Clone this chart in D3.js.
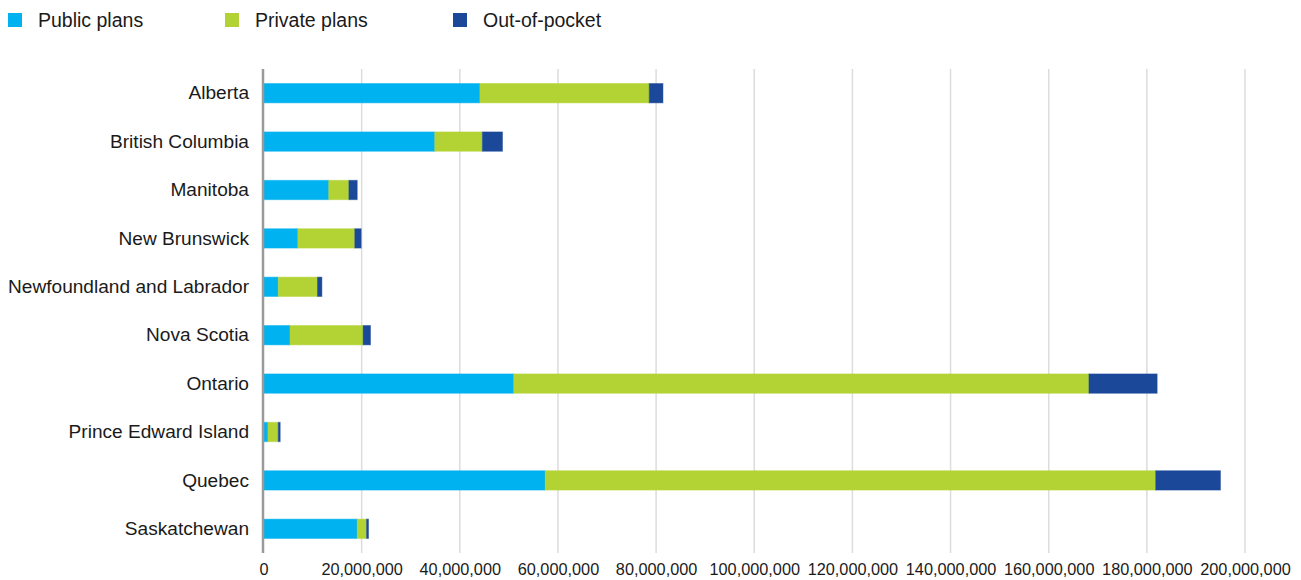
<!DOCTYPE html>
<html>
<head>
<meta charset="utf-8">
<script src="https://cdn.jsdelivr.net/npm/d3@7"></script>
<style>
  html, body { margin: 0; padding: 0; background: #fff; }
  svg { display: block; font-family: "Liberation Sans", Arial, Helvetica, sans-serif; }
</style>
</head>
<body>
<svg id="chart" width="1301" height="580"></svg>
<script>
// Prescription drug spending by province and payer (dollars)
const categories = [
  "Alberta", "British Columbia", "Manitoba", "New Brunswick",
  "Newfoundland and Labrador", "Nova Scotia", "Ontario",
  "Prince Edward Island", "Quebec", "Saskatchewan"
];
const publicPlans  = [44100000, 34900000, 13300000, 7000000, 3000000, 5400000, 51000000, 900000, 57400000, 19100000];
const privatePlans = [34500000, 9700000, 4100000, 11600000, 8000000, 14900000, 117200000, 2100000, 124400000, 1900000];
const outOfPocket  = [2800000, 4100000, 1700000, 1300000, 900000, 1500000, 13900000, 400000, 13200000, 400000];
const seriesNames  = ["Public plans", "Private plans", "Out-of-pocket"];
const tickValues   = [0, 20000000, 40000000, 60000000, 80000000, 100000000, 120000000, 140000000, 160000000, 180000000, 200000000];

const colors = ["#00b2ef", "#b3d335", "#1b4899"];
const keys = ["pub", "priv", "oop"];

const rows = categories.map((c, i) => ({
  category: c, pub: publicPlans[i], priv: privatePlans[i], oop: outOfPocket[i]
}));

const svg = d3.select("#chart");

const x = d3.scaleLinear().domain([0, 200000000]).range([263.5, 1245]);
const y = d3.scaleBand().domain(categories).range([69, 553])
  .paddingInner(0.6).paddingOuter(0.3);

// vertical gridlines
svg.append("g")
  .selectAll("line")
  .data(tickValues.filter(d => d > 0))
  .join("line")
  .attr("x1", d => x(d)).attr("x2", d => x(d))
  .attr("y1", 69).attr("y2", 553)
  .attr("stroke", "#dcdcdc")
  .attr("stroke-width", 1.5);

// x tick labels
const xAxis = d3.axisBottom(x)
  .tickValues(tickValues)
  .tickFormat(d3.format(","))
  .tickSize(0)
  .tickPadding(0);
const gx = svg.append("g").attr("transform", "translate(0,563)").call(xAxis);
gx.select(".domain").remove();
gx.selectAll("text")
  .attr("font-size", 16.3)
  .attr("fill", "#1a1a1a")
  .attr("font-family", "Liberation Sans, Arial, sans-serif");

// stacked bars
const stack = d3.stack().keys(keys);
const layers = stack(rows);

svg.append("g")
  .selectAll("g")
  .data(layers)
  .join("g")
  .attr("fill", (d, i) => colors[i])
  .attr("stroke", (d, i) => colors[i])
  .attr("stroke-opacity", 0.45)
  .attr("stroke-width", 1)
  .selectAll("rect")
  .data(d => d)
  .join("rect")
  .attr("x", d => x(d[0]))
  .attr("y", d => y(d.data.category))
  .attr("width", d => Math.max(0, x(d[1]) - x(d[0])))
  .attr("height", y.bandwidth());

// category axis
const yAxis = d3.axisLeft(y).tickSize(0).tickPadding(14.5);
const gy = svg.append("g").attr("transform", "translate(263.5,0)").call(yAxis);
gy.select(".domain").remove();
gy.selectAll("text")
  .attr("font-size", 19.1)
  .attr("fill", "#1a1a1a")
  .attr("font-family", "Liberation Sans, Arial, sans-serif");

// baseline
svg.append("line")
  .attr("x1", x(0) - 0.5).attr("x2", x(0) - 0.5)
  .attr("y1", 69).attr("y2", 553)
  .attr("stroke", "#9a9a9a")
  .attr("stroke-width", 2.5);

// legend
const legendX = [8, 225, 453];
const legend = svg.append("g")
  .selectAll("g")
  .data(seriesNames)
  .join("g")
  .attr("transform", (d, i) => `translate(${legendX[i]},13)`);
legend.append("rect")
  .attr("width", 14).attr("height", 14)
  .attr("fill", (d, i) => colors[i]);
legend.append("text")
  .attr("x", 30).attr("y", 7)
  .attr("dy", "0.35em")
  .attr("font-size", 19.5)
  .attr("fill", "#1a1a1a")
  .text(d => d);
</script>
</body>
</html>
